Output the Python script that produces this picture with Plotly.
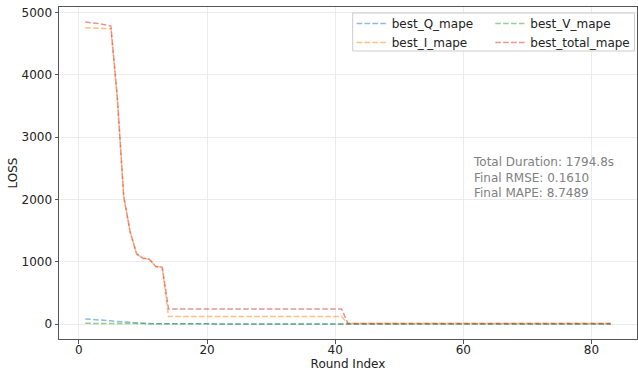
import plotly.graph_objects as go

rounds = list(range(1, 84))

best_Q_mape = [83, 78, 70, 61, 52, 43, 34, 25, 16, 9,
               6, 5, 4, 4, 3, 3, 3, 3, 3, 3,
               3, 3, 3, 3, 3, 3, 3, 3, 3, 3,
               3, 3, 3, 3, 3, 3, 3, 3, 3, 3,
               3, 3, 3, 3, 3, 3, 3, 3, 3, 3,
               3, 3, 3, 3, 3, 3, 3, 3, 3, 3,
               3, 3, 3, 3, 3, 3, 3, 3, 3, 3,
               3, 3, 3, 3, 3, 3, 3, 3, 3, 3,
               3, 3, 3]

best_V_mape = [12, 11, 10, 9, 8, 7, 6, 5, 4, 3,
               3, 3, 3, 3, 3, 3, 3, 3, 3, 3,
               3, 3, 3, 3, 3, 3, 3, 3, 3, 3,
               3, 3, 3, 3, 3, 3, 3, 3, 3, 3,
               3, 3, 3, 3, 3, 3, 3, 3, 3, 3,
               3, 3, 3, 3, 3, 3, 3, 3, 3, 3,
               3, 3, 3, 3, 3, 3, 3, 3, 3, 3,
               3, 3, 3, 3, 3, 3, 3, 3, 3, 3,
               3, 3, 3]

best_I_mape = [4756, 4755, 4750, 4745, 4740, 3630, 2050, 1480, 1129, 1058,
               1042, 924, 913, 120, 120, 120, 120, 120, 120, 120,
               120, 120, 120, 120, 120, 120, 120, 120, 120, 120,
               120, 120, 120, 120, 120, 120, 120, 120, 120, 120,
               120, 8, 8, 8, 8, 8, 8, 8, 8, 8,
               8, 8, 8, 8, 8, 8, 8, 8, 8, 8,
               8, 8, 8, 8, 8, 8, 8, 8, 8, 8,
               8, 8, 8, 8, 8, 8, 8, 8, 8, 8,
               8, 8, 8]

best_total_mape = [4847, 4840, 4825, 4805, 4783, 3640, 2050, 1480, 1129, 1058,
                   1042, 924, 913, 244, 244, 244, 244, 244, 244, 244,
                   244, 244, 244, 244, 244, 244, 244, 244, 244, 244,
                   244, 244, 244, 244, 244, 244, 244, 244, 244, 244,
                   244, 8.75, 8.75, 8.75, 8.75, 8.75, 8.75, 8.75, 8.75, 8.75,
                   8.75, 8.75, 8.75, 8.75, 8.75, 8.75, 8.75, 8.75, 8.75, 8.75,
                   8.75, 8.75, 8.75, 8.75, 8.75, 8.75, 8.75, 8.75, 8.75, 8.75,
                   8.75, 8.75, 8.75, 8.75, 8.75, 8.75, 8.75, 8.75, 8.75, 8.75,
                   8.75, 8.75, 8.75]

series_names = ["best_Q_mape", "best_I_mape", "best_V_mape", "best_total_mape"]
series_values = [best_Q_mape, best_I_mape, best_V_mape, best_total_mape]
series_colors = ["rgba(31,119,180,0.5)", "rgba(255,127,14,0.5)",
                 "rgba(44,160,44,0.5)", "rgba(214,39,40,0.5)"]
series_legend = ["legend", "legend", "legend2", "legend2"]

x_ticks = [0, 20, 40, 60, 80]
y_ticks = [0, 1000, 2000, 3000, 4000, 5000]

summary_lines = ["Total Duration: 1794.8s", "Final RMSE: 0.1610", "Final MAPE: 8.7489"]

FONT = "DejaVu Sans"

fig = go.Figure()
for name, vals, col, lg in zip(series_names, series_values, series_colors, series_legend):
    fig.add_trace(go.Scatter(
        x=rounds, y=vals, mode="lines", name=name,
        line=dict(color=col, width=1.5, dash="5.5px,2.4px"),
        legend=lg,
    ))

# axis ranges with 5% margins (matplotlib style)
all_y = [v for s in series_values for v in s]
ymin, ymax = min(all_y), max(all_y)
ypad = (ymax - ymin) * 0.05
xmin, xmax = min(rounds), max(rounds)
xpad = (xmax - xmin) * 0.05

axis_common = dict(
    showline=True, linecolor="#555555", linewidth=1, mirror=True,
    ticks="outside", ticklen=3.5, tickwidth=0.8, tickcolor="#555555",
    showgrid=True, gridcolor="#ebebeb", gridwidth=0.8, zeroline=False,
    tickfont=dict(family=FONT, size=12, color="#222222"),
)

fig.update_xaxes(range=[xmin - xpad, xmax + xpad], tickvals=x_ticks,
                 ticklabelstandoff=-4,
                 title=dict(text="Round Index", font=dict(family=FONT, size=12, color="#222222"), standoff=2),
                 **axis_common)
fig.update_yaxes(range=[ymin - ypad, ymax + ypad], tickvals=y_ticks,
                 title=dict(text="LOSS", font=dict(family=FONT, size=12, color="#222222"), standoff=1),
                 **axis_common)

legend_common = dict(
    font=dict(family=FONT, size=12, color="#222222"),
    bgcolor="rgba(0,0,0,0)", borderwidth=0,
    xanchor="left", yanchor="top", orientation="v",
)

fig.update_layout(
    width=638, height=373,
    margin=dict(l=59, r=1, t=7, b=34),
    paper_bgcolor="white", plot_bgcolor="white",
    font=dict(family=FONT, size=12, color="#222222"),
    showlegend=True,
    legend=dict(x=0.5064, y=0.994, **legend_common),
    legend2=dict(x=0.7462, y=0.994, **legend_common),
    shapes=[dict(
        type="rect", xref="paper", yref="paper",
        x0=0.5081, x1=0.9957, y0=0.8675, y1=0.9819,
        line=dict(color="#cccccc", width=1),
        fillcolor="rgba(255,255,255,0.8)", layer="above",
    )],
    annotations=[dict(
        text="<br>".join(summary_lines), xref="paper", yref="paper",
        x=0.7128, y=0.487, xanchor="left", yanchor="middle", align="left",
        showarrow=False, font=dict(family=FONT, size=12, color="#808080"),
    )],
)

fig.write_html("out.html")
